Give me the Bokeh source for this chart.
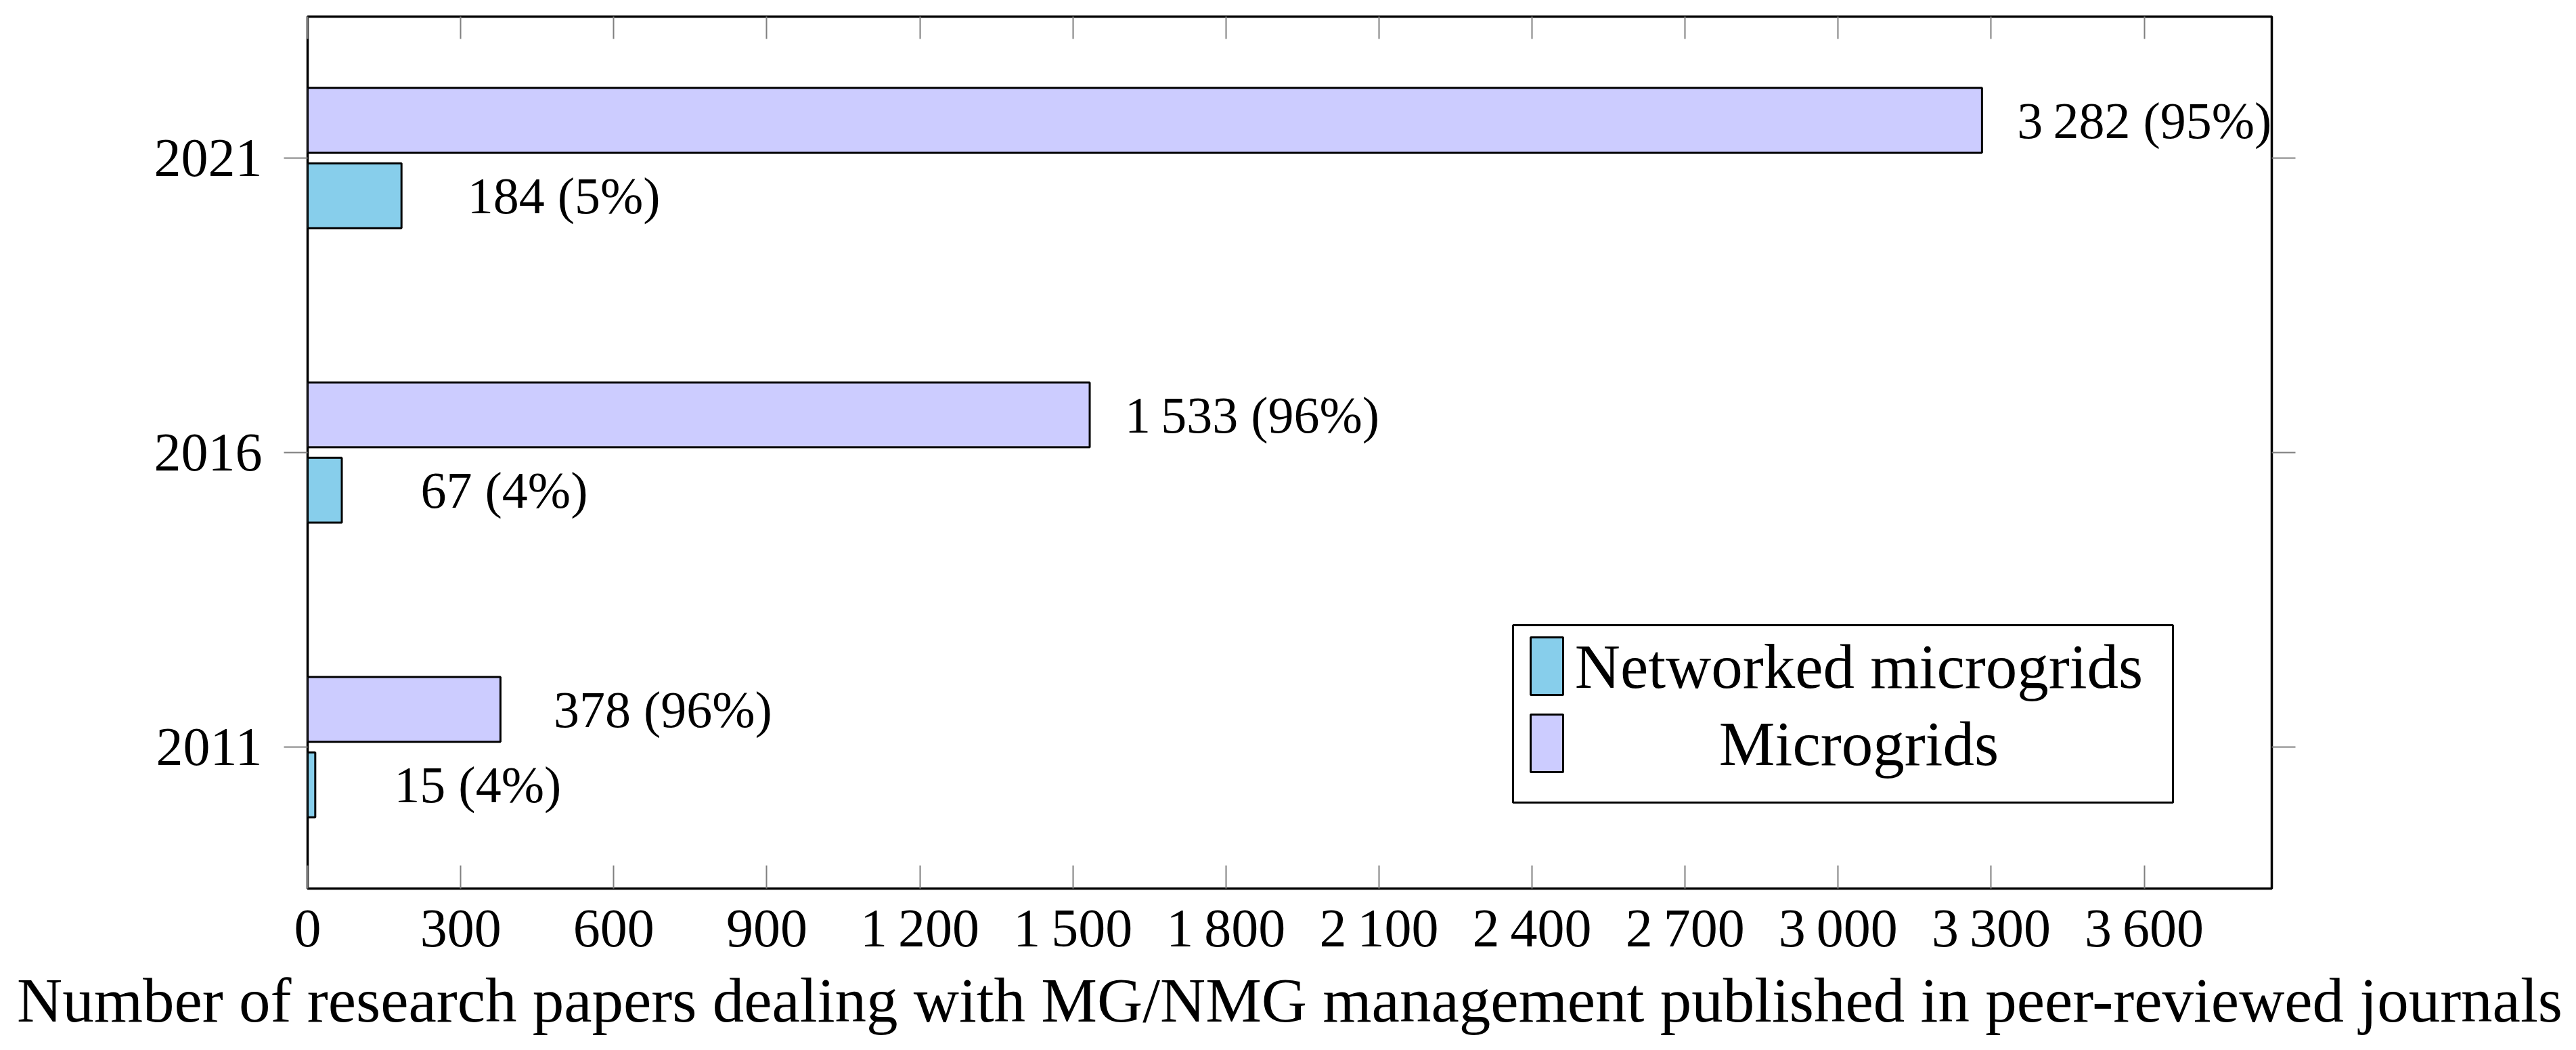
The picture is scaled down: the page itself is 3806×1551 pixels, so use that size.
from bokeh.plotting import figure
from bokeh.models import (Range1d, FixedTicker, LinearAxis, ColumnDataSource, BoxAnnotation, Label,
                          CustomLabelingPolicy)
from bokeh.embed import file_html
from bokeh.resources import INLINE
from bokeh.core.properties import value
from bokeh.transform import dodge

# ---------------- data ----------------
years = [2011, 2016, 2021]
networked = [15, 67, 184]
microgrids = [378, 1533, 3282]
x_ticks = [0, 300, 600, 900, 1200, 1500, 1800, 2100, 2400, 2700, 3000, 3300, 3600]
x_tick_labels = ["0", "300", "600", "900", "1\u2009200", "1\u2009500", "1\u2009800",
                 "2\u2009100", "2\u2009400", "2\u2009700", "3\u2009000", "3\u2009300", "3\u2009600"]
y_tick_labels = ["2011", "2016", "2021"]
series_names = ["Networked microgrids", "Microgrids"]
x_title = "Number of research papers dealing with MG/NMG management published in peer-reviewed journals"

# ---------------- derived labels ----------------
def fmt(v):
    return f"{v:,}".replace(",", "\u2009")

net_lbl = [f"{fmt(n)} ({round(100 * n / (n + m))}%)" for n, m in zip(networked, microgrids)]
mg_lbl = [f"{fmt(m)} ({round(100 * m / (n + m))}%)" for n, m in zip(networked, microgrids)]

src = ColumnDataSource(dict(year=years, net=networked, mg=microgrids, net_lbl=net_lbl, mg_lbl=mg_lbl))

FONT = "Liberation Serif"
FS_TICK = "80px"
FS_BAR = "76px"
FS_TEXT = "93px"
NET_COLOR = "#87CEEB"
MG_COLOR = "#CCCCFF"
TICK_COLOR = "#808080"

p = figure(width=3790, height=1535, output_backend="svg", toolbar_location=None,
           x_range=Range1d(0, 3850), y_range=Range1d(2008.6, 2023.4),
           min_border_left=454, min_border_right=434, min_border_top=24, min_border_bottom=223)
p.xgrid.visible = False
p.ygrid.visible = False
p.outline_line_color = "black"
p.outline_line_width = 3.5
p.background_fill_color = "white"
p.border_fill_color = "white"

OFF = 0.64
H = 1.1
p.hbar(y=dodge("year", OFF), left=0, right="mg", height=H, source=src,
       fill_color=MG_COLOR, line_color="black", line_width=3)
p.hbar(y=dodge("year", -OFF), left=0, right="net", height=H, source=src,
       fill_color=NET_COLOR, line_color="black", line_width=3)

p.text(x="mg", y=dodge("year", OFF), text="mg_lbl", source=src, x_offset=240,
       text_align="center", text_baseline="middle",
       text_font=value(FONT), text_font_size=FS_BAR, text_color="black")
p.text(x="net", y=dodge("year", -OFF), text="net_lbl", source=src, x_offset=240,
       text_align="center", text_baseline="middle",
       text_font=value(FONT), text_font_size=FS_BAR, text_color="black")

# bottom axis
xa = p.xaxis[0]
xa.ticker = FixedTicker(ticks=x_ticks)
xa.major_label_overrides = {t: l for t, l in zip(x_ticks, x_tick_labels)}
xa.axis_line_color = None
xa.major_tick_in = 34
xa.major_tick_out = 0
xa.major_tick_line_color = TICK_COLOR
xa.major_tick_line_width = 2
xa.minor_tick_line_color = None
xa.major_label_text_font = FONT
xa.major_label_text_font_size = FS_TICK
xa.major_label_text_color = "black"
xa.major_label_standoff = 14
xa.axis_label = x_title
xa.axis_label_text_font = FONT
xa.axis_label_text_font_size = FS_TEXT
xa.axis_label_text_font_style = "normal"
xa.axis_label_text_color = "black"
xa.axis_label_standoff = 8

# left axis
ya = p.yaxis[0]
ya.ticker = FixedTicker(ticks=years)
ya.major_label_overrides = {t: l for t, l in zip(years, y_tick_labels)}
ya.axis_line_color = None
ya.major_tick_in = 0
ya.major_tick_out = 35
ya.major_tick_line_color = TICK_COLOR
ya.major_tick_line_width = 2
ya.minor_tick_line_color = None
ya.major_label_text_font = FONT
ya.major_label_text_font_size = FS_TICK
ya.major_label_text_color = "black"
ya.major_label_standoff = 32

# tick-only axes on top and right (labels suppressed by the labeling policy)
NO_LABELS = "const a = [...indices]; for (const i of a) indices.unset(i); return indices"
ta = LinearAxis(ticker=FixedTicker(ticks=x_ticks), axis_line_color=None,
                major_tick_in=33, major_tick_out=0, major_tick_line_color=TICK_COLOR,
                major_tick_line_width=2, minor_tick_line_color=None,
                major_label_text_font_size="1px", major_label_standoff=0,
                major_label_policy=CustomLabelingPolicy(code=NO_LABELS))
p.add_layout(ta, "above")

ra = LinearAxis(ticker=FixedTicker(ticks=years), axis_line_color=None,
                major_tick_in=0, major_tick_out=35, major_tick_line_color=TICK_COLOR,
                major_tick_line_width=2, minor_tick_line_color=None,
                major_label_text_font_size="1px", major_label_standoff=0,
                major_label_policy=CustomLabelingPolicy(code=NO_LABELS))
p.add_layout(ra, "right")

# legend (frame-relative screen coordinates, y measured from frame bottom)
def box(l, r, t, b, fill):
    return BoxAnnotation(left=l, right=r, top=t, bottom=b,
                         left_units="screen", right_units="screen",
                         top_units="screen", bottom_units="screen",
                         fill_color=fill, fill_alpha=1.0,
                         line_color="black", line_width=3, line_alpha=1.0)

p.add_layout(box(1781, 2756, 389, 127, "white"))
p.add_layout(box(1807, 1855, 371, 286, NET_COLOR))
p.add_layout(box(1807, 1855, 257, 172, MG_COLOR))
p.add_layout(Label(x=2292, y=328, x_units="screen", y_units="screen", text=series_names[0],
                   text_align="center", text_baseline="middle",
                   text_font=FONT, text_font_size=FS_TEXT, text_color="black"))
p.add_layout(Label(x=2292, y=214, x_units="screen", y_units="screen", text=series_names[1],
                   text_align="center", text_baseline="middle",
                   text_font=FONT, text_font_size=FS_TEXT, text_color="black"))

open("out.html", "w").write(file_html(p, INLINE))
